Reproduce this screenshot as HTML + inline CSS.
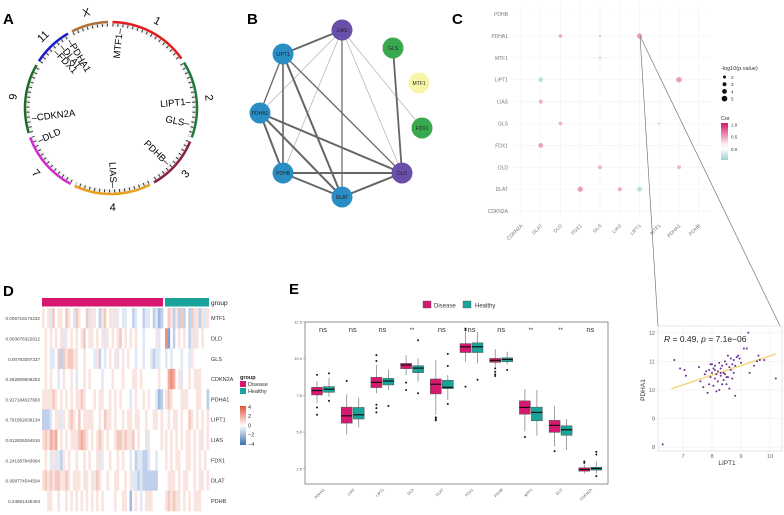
<!DOCTYPE html>
<html><head><meta charset="utf-8"><style>
html,body{margin:0;padding:0;background:#fff;}
svg{display:block;font-family:"Liberation Sans",sans-serif;}
</style></head><body>
<svg id="fig" width="784" height="515" viewBox="0 0 784 515" xmlns="http://www.w3.org/2000/svg">
<defs>
<linearGradient id="corgrad" x1="0" y1="0" x2="0" y2="1">
<stop offset="0" stop-color="#d6186e"/><stop offset="0.55" stop-color="#fbe6ef"/><stop offset="0.7" stop-color="#ffffff"/><stop offset="1" stop-color="#9fd0d0"/></linearGradient>
<linearGradient id="hmgrad" x1="0" y1="0" x2="0" y2="1">
<stop offset="0" stop-color="#e0523a"/><stop offset="0.5" stop-color="#ffffff"/><stop offset="1" stop-color="#3a6fb5"/></linearGradient>
</defs>
<text x="3" y="24" font-size="15" font-weight="bold">A</text>
<text x="247" y="24" font-size="15" font-weight="bold">B</text>
<text x="452" y="24" font-size="15" font-weight="bold">C</text>
<text x="3" y="296" font-size="15" font-weight="bold">D</text>
<text x="289" y="294" font-size="15" font-weight="bold">E</text>
</svg>
<script>
const NS="http://www.w3.org/2000/svg";
const svg=document.getElementById('fig');
function mk(tag,a,parent){const e=document.createElementNS(NS,tag);for(const k in a)e.setAttribute(k,a[k]);(parent||svg).appendChild(e);return e;}
function tx(str,a,parent){const e=mk('text',a,parent);e.textContent=str;return e;}

// ---------- Panel A: circos ----------
const chromNames=['1','2','3','4','7','9','11','X'];
const chromStartDeg=[1,58,113,153,208,253,303,333];
const chromEndDeg=[55,110,150,205,250,300,330,358];
const chromColors=['#e21a1a','#1f7a3a','#8a1f4a','#e8a020','#d02ad0','#1f6b2a','#1a1ac8','#b0703a'];
const geneNamesA=['MTF1','LIPT1','GLS','PDHB','LIAS','DLD','CDKN2A','FDX1','DLAT','PDHA1'];
const geneDegA=[6,85,101,134,178,246,263,316,322,329];
const gA=mk('g',{});


const ACX=111,ACY=108;
function pol(d,r){const t=d*Math.PI/180;return [ACX+r*Math.sin(t),ACY-r*Math.cos(t)];}
function arcP(d1,d2,r){const a=pol(d1,r),b=pol(d2,r);return `M${a[0]},${a[1]} A${r},${r} 0 ${(d2-d1)>180?1:0} 1 ${b[0]},${b[1]}`;}
chromNames.forEach((n,i)=>{
  const band=mk('path',{d:arcP(chromStartDeg[i],chromEndDeg[i],83),stroke:'#f0f0f0','stroke-width':3.5,fill:'none'},gA);
  
  
  const dash=mk('path',{d:arcP(chromStartDeg[i],chromEndDeg[i],83),stroke:'#333','stroke-width':3,fill:'none','stroke-dasharray':'1 4'},gA);
  
  
  const arc=mk('path',{d:arcP(chromStartDeg[i],chromEndDeg[i],86),stroke:chromColors[i],'stroke-width':2.5,fill:'none'},gA);
  
  
  const mid=(chromStartDeg[i]+chromEndDeg[i])/2;
  const p=pol(mid,99);
  const l=tx(n,{x:p[0],y:p[1]+4,'font-size':11,'text-anchor':'middle',transform:`rotate(${mid>90&&mid<270?mid-180:mid} ${p[0]} ${p[1]})`},gA);
  
  
});
geneNamesA.forEach((g,i)=>{
  const d=geneDegA[i];const p=pol(d,80);
  let t;
  if(d<=180){t=tx(g+'–',{x:p[0],y:p[1]+3.5,'font-size':9.5,'text-anchor':'end',transform:`rotate(${d-90} ${p[0]} ${p[1]})`},gA);}
  else{t=tx('–'+g,{x:p[0],y:p[1]+3.5,'font-size':9.5,'text-anchor':'start',transform:`rotate(${d-270} ${p[0]} ${p[1]})`},gA);}
  
  
});

// ---------- Panel B: network ----------
const nodeNames=['LIAS','LIPT1','PDHA1','PDHB','DLAT','DLD','GLS','MTF1','FDX1'];
const nodeX=[342,283,260,283,342,402,393,419,422];
const nodeY=[30,54,113,173,197,173,48,83,128];
const nodeColors=['#6a4fa8','#2a8ec4','#2a8ec4','#2a8ec4','#2a8ec4','#6a4fa8','#3aa84e','#f8f4a8','#3aa84e'];
const edgeFrom=['LIAS','LIAS','LIAS','LIAS','LIAS','LIAS','LIPT1','LIPT1','LIPT1','LIPT1','PDHA1','PDHA1','PDHA1','PDHB','PDHB','DLAT','GLS'];
const edgeTo=['LIPT1','PDHA1','PDHB','DLAT','DLD','FDX1','PDHA1','PDHB','DLAT','DLD','PDHB','DLAT','DLD','DLAT','DLD','DLD','DLD'];
const edgeW=[2,0.8,0.8,1.2,0.8,0.8,1.3,1.6,2,1.3,2,2,2,2,2,2,1.8];
const gB=mk('g',{});


edgeFrom.forEach((f,i)=>{
  const a=nodeNames.indexOf(f),b=nodeNames.indexOf(edgeTo[i]);
  const e=mk('line',{x1:nodeX[a],y1:nodeY[a],x2:nodeX[b],y2:nodeY[b],stroke:edgeW[i]<1?'#b8b8b8':'#666','stroke-width':edgeW[i]},gB);
  
  
});
nodeNames.forEach((n,i)=>{
  const c=mk('circle',{cx:nodeX[i],cy:nodeY[i],r:10.5,fill:nodeColors[i]},gB);
  
  
  const t=tx(n,{x:nodeX[i],y:nodeY[i]+1.8,'font-size':5,'text-anchor':'middle',fill:'#222'},gB);
  
  
});

// ---------- Panel C: correlation dot plot ----------
const cCols=['CDKN2A','DLAT','DLD','FDX1','GLS','LIAS','LIPT1','MTF1','PDHA1','PDHB'];
const cRows=['PDHB','PDHA1','MTF1','LIPT1','LIAS','GLS','FDX1','DLD','DLAT','CDKN2A'];
const dotCol=['DLD','GLS','LIPT1','GLS','DLAT','PDHA1','DLAT','DLD','MTF1','DLAT','GLS','PDHA1','FDX1','LIAS','LIPT1'];
const dotRow=['PDHA1','PDHA1','PDHA1','MTF1','LIPT1','LIPT1','LIAS','GLS','GLS','FDX1','DLD','DLD','DLAT','DLAT','DLAT'];
const dotCor=[0.45,0.2,0.55,0.15,-0.3,0.6,0.45,0.4,0.15,0.55,0.35,0.35,0.6,0.45,-0.3];
const dotLogP=[2.3,1.5,3.6,1.4,3.2,3.8,2.6,2.4,1.4,3.2,2.6,2.6,3.6,2.6,3.4];
const cx0=521,cdx=19.75,cy0=14,cdy=21.9;
function cX(c){return cx0+cCols.indexOf(c)*cdx;}
function cY(r){return cy0+cRows.indexOf(r)*cdy;}
const gC=mk('g',{});


cCols.forEach(c=>{const l=mk('line',{x1:cX(c),y1:4,x2:cX(c),y2:218,stroke:'#f2f2f2','stroke-width':0.6},gC);
  
  
  const t=tx(c,{x:cX(c)+2,y:226,'font-size':5,'text-anchor':'end',fill:'#777',transform:`rotate(-45 ${cX(c)+2} 226)`},gC);
  
  });
cRows.forEach(r=>{const l=mk('line',{x1:514,y1:cY(r),x2:712,y2:cY(r),stroke:'#f2f2f2','stroke-width':0.6},gC);
  
  
  const t=tx(r,{x:508,y:cY(r)+2,'font-size':5,'text-anchor':'end',fill:'#777'},gC);
  
  });
function corColor(v){return v<0?'rgba(140,200,200,0.55)':`rgba(214,24,110,${0.12+v*0.5})`;}
dotCol.forEach((c,i)=>{
  const d=mk('circle',{cx:cX(c),cy:cY(dotRow[i]),r:0.4+dotLogP[i]*0.62,fill:corColor(dotCor[i])},gC);
  
  
});
tx('-log10(p.value)',{x:721,y:70,'font-size':5.5,fill:'#333'},gC);
const sizeLegVals=[2,3,4,5];
sizeLegVals.forEach((v,i)=>{const c=mk('circle',{cx:724.5,cy:77+i*7.2,r:0.6+v*0.45,fill:'#111'},gC);
  
  
  const t=tx(String(v),{x:731,y:79+i*7.2,'font-size':4.5,fill:'#333'},gC);
  
  });
tx('Cor',{x:721,y:120,'font-size':5.5,fill:'#333'},gC);
const cb=mk('rect',{x:721,y:123,width:7,height:37,fill:'url(#corgrad)'},gC);


[['1.0',126.5],['0.5',138.5],['0.0',151]].forEach(a=>{const t=tx(a[0],{x:731,y:a[1],'font-size':4.5,fill:'#333'},gC);
  
  });

// zoom lines
const zl1=mk('line',{x1:640,y1:36,x2:658,y2:326,stroke:'#777','stroke-width':0.7});


const zl2=mk('line',{x1:640,y1:36,x2:780,y2:326,stroke:'#777','stroke-width':0.7});



// ---------- Scatter (LIPT1 vs PDHA1) ----------
const lipt1=[6.3,6.7,6.9,7.05,7.1,7.55,7.6,7.7,7.75,7.8,7.85,7.9,7.9,7.95,8.0,8.0,8.05,8.05,8.1,8.1,8.15,8.15,8.2,8.2,8.25,8.25,8.3,8.3,8.35,8.35,8.4,8.4,8.45,8.45,8.5,8.5,8.55,8.55,8.6,8.6,8.65,8.65,8.7,8.7,8.75,8.75,8.8,8.8,8.85,8.9,8.95,9.0,9.1,9.2,9.25,9.3,9.45,9.55,9.6,9.65,9.8,10.2,7.95,8.1,8.3,8.5];
const pdha1=[8.1,11.05,10.75,10.7,10.5,10.8,10.3,10.1,10.55,10.65,9.9,10.7,10.2,10.45,10.9,10.6,10.15,10.75,10.4,10.85,10.55,9.95,10.65,10.3,10.95,10.0,10.5,10.75,10.2,10.85,10.6,10.35,11.0,10.55,10.9,10.2,11.2,10.45,10.8,10.05,11.1,10.7,10.9,10.4,11.05,10.6,10.85,9.8,11.15,11.2,11.1,10.95,11.45,11.45,12.0,10.6,10.85,11.0,11.2,11.05,11.05,10.4,10.9,10.7,10.6,10.45];
const sxTicks=[7,8,9,10], syTicks=[8,9,10,11,12];
function sX(v){return 683+(v-7)*29;}
function sY(v){return 390-(v-10)*28.6;}
const gS=mk('g',{});


const sb=mk('rect',{x:658,y:326,width:124,height:125,fill:'#fff',stroke:'#ccc','stroke-width':0.5},gS);


sxTicks.forEach(v=>{const l=mk('line',{x1:sX(v),y1:326,x2:sX(v),y2:451,stroke:'#eee','stroke-width':0.6},gS);
  
  
  const t=tx(String(v),{x:sX(v),y:458,'font-size':5.5,'text-anchor':'middle',fill:'#666'},gS);
  
  });
syTicks.forEach(v=>{const l=mk('line',{x1:658,y1:sY(v),x2:782,y2:sY(v),stroke:'#eee','stroke-width':0.6},gS);
  
  
  const t=tx(String(v),{x:655,y:sY(v)+2,'font-size':5.5,'text-anchor':'end',fill:'#666'},gS);
  
  });
(function(){const n=lipt1.length;let mx=0,my=0;for(let i=0;i<n;i++){mx+=lipt1[i];my+=pdha1[i];}mx/=n;my/=n;
 let sxy=0,sxx=0;for(let i=0;i<n;i++){sxy+=(lipt1[i]-mx)*(pdha1[i]-my);sxx+=(lipt1[i]-mx)**2;}
 const b=sxy/sxx,a=my-b*mx;
 const fl=mk('line',{x1:sX(6.6),y1:sY(a+b*6.6),x2:sX(10.2),y2:sY(a+b*10.2),stroke:'#f3d98a','stroke-width':1.6},gS);
 
 })();
lipt1.forEach((v,i)=>{const p=mk('circle',{cx:sX(v),cy:sY(pdha1[i]),r:1,fill:'#6a2c91'},gS);
  
  });
const st=mk('text',{x:664,y:342,'font-size':8.5,fill:'#222'},gS);


st.innerHTML='<tspan font-style="italic">R</tspan> = 0.49, <tspan font-style="italic">p</tspan> = 7.1e−06';
tx('LIPT1',{x:727,y:465,'font-size':6.5,'text-anchor':'middle',fill:'#333'},gS);
tx('PDHA1',{x:645,y:390,'font-size':6.5,'text-anchor':'middle',fill:'#333',transform:'rotate(-90 645 390)'},gS);

// ---------- Panel D: heatmap ----------
const hmGenes=['MTF1','DLD','GLS','CDKN2A','PDHA1','LIPT1','LIAS','FDX1','DLAT','PDHB'];
const hmPvals=['0.006719174232','0.003076322812','0.00793097337','0.262809608253','0.917184027663','0.791562039134','0.612826264516','0.241387843664','0.958774544504','0.23861445404'];
const hmDisease=[
'54536455465436544635542564553543344234423342312',
'45454545354545456455454535454564545454434444534',
'45433462656655445444352434545345454434434432334',
'45454434544543445454444344454445444554544444454',
'55556545454545565444545544545454443454454544312',
'22234553545654645555445465545445455455445445545',
'56576745454555676545456545445665655645443544445',
'45435332545445445454453544544545443423322344344',
'56565665565455545545565445445544545332322222244',
'44554454454545454545454544445445541454345554444'];
const hmHealthy=[
'46525262426352535',
'80424545425354544',
'34344434435444444',
'47874534454555444',
'56544455544455442',
'45455454465454545',
'54545454554545545',
'54545544554545454',
'45554545544545545',
'56565545454555444'];
const gD=mk('g',{});


const hX0=42,hDisW=121,hHX0=165,hHW=44,hY0=308,hRowH=20.3;
function hmColor(c){const v=(parseInt(c)-4)*0.6;const t=Math.min(1,Math.abs(v)/3.2);
  const base=v>=0?[230,110,85]:[90,130,200];const r=Math.round(255+(base[0]-255)*t),g=Math.round(255+(base[1]-255)*t),b=Math.round(255+(base[2]-255)*t);return `rgb(${r},${g},${b})`;}
const gb1=mk('rect',{x:hX0,y:298,width:hDisW,height:8.5,fill:'#d6186e'},gD);


const gb2=mk('rect',{x:hHX0,y:298,width:hHW,height:8.5,fill:'#1aa39a'},gD);


tx('group',{x:211,y:305,'font-size':6.5,fill:'#222'},gD);
hmGenes.forEach((g,r)=>{
  const y=hY0+r*hRowH;
  [[hmDisease[r],hX0,hDisW],[hmHealthy[r],hHX0,hHW]].forEach(set=>{
    const s=set[0],w=set[2]/s.length;
    for(let i=0;i<s.length;i++){const c=mk('rect',{x:set[1]+i*w,y:y,width:w+0.3,height:hRowH+0.3,fill:hmColor(s[i])},gD);
      
      }
  });
  const t=tx(g,{x:211,y:y+hRowH/2+2,'font-size':5.5,fill:'#333'},gD);
  
  
  const p=tx(hmPvals[r],{x:40,y:y+hRowH/2+2,'font-size':4.6,'text-anchor':'end',fill:'#444'},gD);
  
  
});
tx('group',{x:240,y:379,'font-size':5.5,'font-weight':'bold',fill:'#222'},gD);
const ls1=mk('rect',{x:240,y:381,width:6,height:6,fill:'#d6186e'},gD);


const ls2=mk('rect',{x:240,y:388,width:6,height:6,fill:'#1aa39a'},gD);


tx('Disease',{x:248,y:386,'font-size':5.5,fill:'#333'},gD);
tx('Healthy',{x:248,y:393,'font-size':5.5,fill:'#333'},gD);
const hcb=mk('rect',{x:240,y:406,width:6,height:39,fill:'url(#hmgrad)'},gD);


['4','2','0','−2','−4'].forEach((l,i)=>{const t=tx(l,{x:248,y:409+i*9.2,'font-size':5.5,fill:'#333'},gD);
  
  });

// ---------- Panel E: boxplots ----------
const eGenes=['PDHA1','LIAS','LIPT1','DLD','DLAT','FDX1','PDHB','MTF1','GLS','CDKN2A'];
const eSig=['ns','ns','ns','**','ns','ns','ns','**','**','ns'];
const dMed=[7.83,6.11,8.39,9.57,8.26,10.81,9.88,6.68,5.46,2.45];
const dQ1=[7.53,5.61,8.03,9.32,7.6,10.42,9.75,6.22,4.98,2.34];
const dQ3=[8.05,6.7,8.73,9.68,8.62,11.03,10.02,7.13,5.8,2.57];
const dLo=[6.97,4.83,7.65,8.89,6.18,9.79,9.45,5.05,4.03,2.18];
const dHi=[8.48,7.58,9.57,10.24,9.9,11.82,10.65,7.94,6.79,2.79];
const dOut=[[8.9,6.68,6.18],[8.48],[10.24,9.84,6.86,6.63,6.34],[8.37,7.87],[6.0,5.9,5.8],[12.05,11.94,8.1],[9.34,9.11,8.93,8.82],[4.67],[3.7],[3.0,2.9]];
const hMed=[7.92,6.18,8.48,9.36,8.05,10.81,9.95,6.34,5.16,2.52];
const hQ1=[7.71,5.89,8.21,9.05,7.96,10.42,9.79,5.77,4.78,2.41];
const hQ3=[8.1,6.68,8.66,9.52,8.53,11.08,10.06,6.7,5.43,2.61];
const hLo=[7.4,5.32,7.87,8.44,7.19,9.68,9.61,4.76,3.77,2.18];
const hHi=[8.7,7.35,9.27,10.02,8.89,11.82,10.47,7.87,5.89,3.0];
const hOut=[[9.0,7.13],[],[6.79],[11.26,7.65],[10.33,9.5,6.92],[8.57],[9.23],[],[],[3.65,3.47,2.0]];
const eYTicks=[2.5,5.0,7.5,10.0,12.5];
const eL=305,eR=608,eT=322,eB=484;
function eY(v){return eT+(12.5-v)*14.68;}
function eX(i){return 323+i*29.7;}
const gE=mk('g',{});


const eFrame=mk('rect',{x:eL,y:eT,width:eR-eL,height:eB-eT,fill:'none',stroke:'#777','stroke-width':0.8},gE);


eYTicks.forEach(v=>{const t=tx(v.toFixed(1),{x:302,y:eY(v)+1.5,'font-size':4,'text-anchor':'end',fill:'#555'},gE);
  
  
  const k=mk('line',{x1:eL-2,y1:eY(v),x2:eL,y2:eY(v),stroke:'#777','stroke-width':0.5},gE);
  
  });
function drawBox(cx,med,q1,q3,lo,hi,outs,fill,name){
  const w=mk('line',{x1:cx,y1:eY(hi),x2:cx,y2:eY(lo),stroke:'#888','stroke-width':0.8},gE);
  
  
  const b=mk('rect',{x:cx-5.5,y:eY(q3),width:11,height:eY(q1)-eY(q3),fill:fill,stroke:'#555','stroke-width':0.5},gE);
  
  
  const m=mk('line',{x1:cx-5.5,y1:eY(med),x2:cx+5.5,y2:eY(med),stroke:'#111','stroke-width':1.2},gE);
  
  
  outs.forEach(o=>{const c=mk('circle',{cx:cx,cy:eY(o),r:1,fill:'#111'},gE);
    
    });
}
eGenes.forEach((g,i)=>{
  const cx=eX(i);
  drawBox(cx-6,dMed[i],dQ1[i],dQ3[i],dLo[i],dHi[i],dOut[i],'#d6186e','disease-'+g.toLowerCase());
  drawBox(cx+6,hMed[i],hQ1[i],hQ3[i],hLo[i],hHi[i],hOut[i],'#1aa39a','healthy-'+g.toLowerCase());
  const s=tx(eSig[i],{x:cx,y:eT+10,'font-size':eSig[i]=='ns'?7.5:6,'text-anchor':'middle',fill:'#333'},gE);
  
  
  const t=tx(g,{x:cx+2,y:eB+6,'font-size':3.8,'text-anchor':'end',fill:'#555',transform:`rotate(-45 ${cx+2} ${eB+6})`},gE);
  
  
});
const el1=mk('rect',{x:423,y:301,width:8,height:7,fill:'#d6186e',stroke:'#555','stroke-width':0.4},gE);


tx('Disease',{x:434,y:307.5,'font-size':6,fill:'#333'},gE);
const el2=mk('rect',{x:463,y:301,width:8,height:7,fill:'#1aa39a',stroke:'#555','stroke-width':0.4},gE);


tx('Healthy',{x:475,y:307.5,'font-size':6,fill:'#333'},gE);
</script>
</body></html>
